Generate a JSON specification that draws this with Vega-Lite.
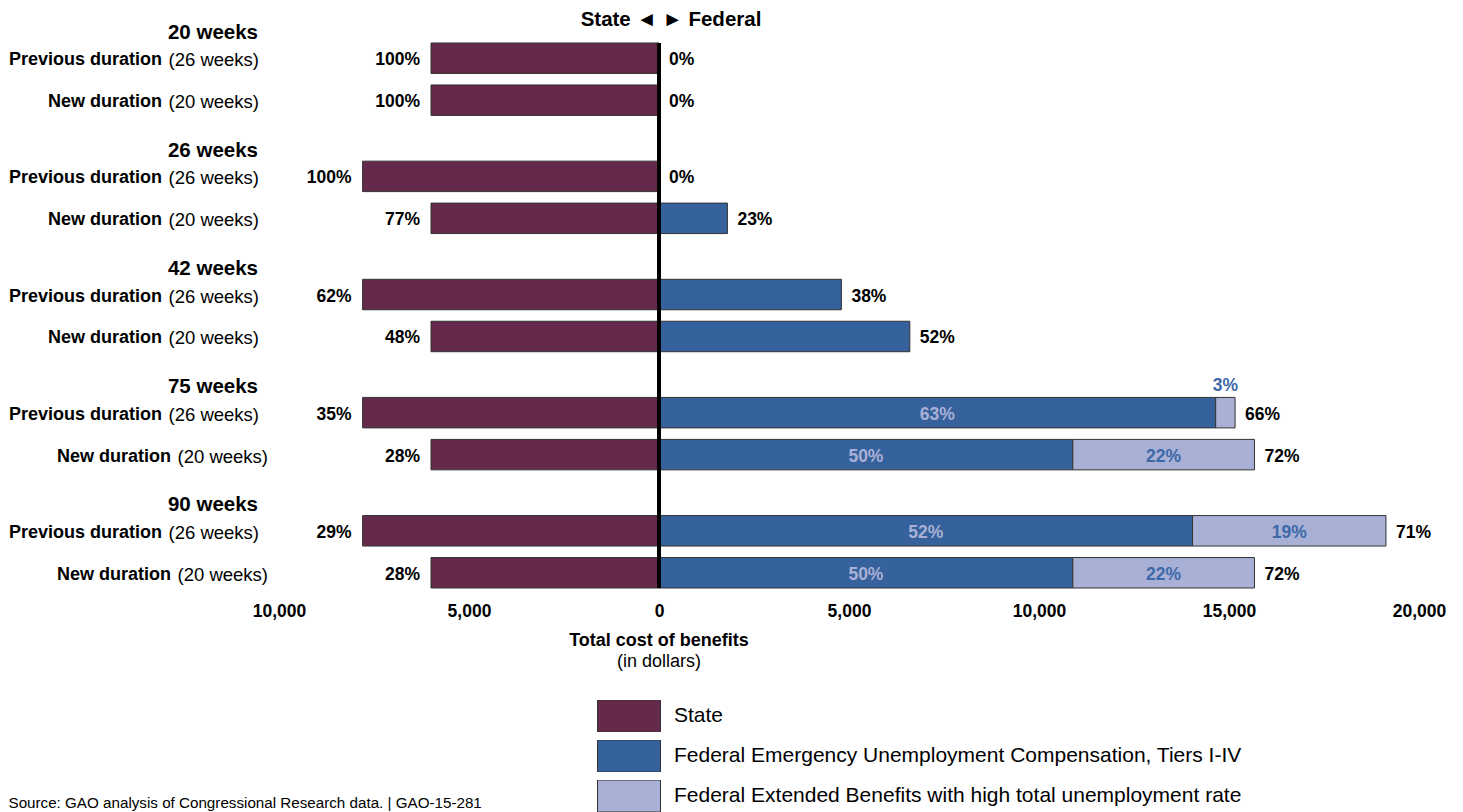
{
  "$schema": "https://vega.github.io/schema/vega-lite/v6.json",
  "width": 1140,
  "height": 545,
  "autosize": {"type": "none"},
  "padding": {"left": 279, "top": 43, "right": 44, "bottom": 224},
  "background": "white",
  "config": {
    "view": {"stroke": null},
    "font": "Liberation Sans",
    "axis": {"grid": false}
  },
  "title": {
    "text": "Total cost of benefits",
    "subtitle": "(in dollars)",
    "orient": "bottom",
    "anchor": "middle",
    "frame": "group",
    "dx": -190,
    "offset": -180,
    "fontSize": 18,
    "fontWeight": "bold",
    "color": "black",
    "subtitleFontSize": 18,
    "subtitleFontWeight": "normal",
    "subtitleColor": "black",
    "subtitlePadding": 3
  },
  "data": {
    "values": [
      {"group": "20 weeks", "dur": "Previous duration", "weeks": "(26 weeks)", "series": "State", "value": -6000, "pct": "100%", "fedPct": ""},
      {"group": "20 weeks", "dur": "Previous duration", "weeks": "(26 weeks)", "series": "Federal Emergency Unemployment Compensation, Tiers I-IV", "value": 0, "pct": "0%", "fedPct": "0%"},
      {"group": "20 weeks", "dur": "New duration", "weeks": "(20 weeks)", "series": "State", "value": -6000, "pct": "100%", "fedPct": ""},
      {"group": "20 weeks", "dur": "New duration", "weeks": "(20 weeks)", "series": "Federal Emergency Unemployment Compensation, Tiers I-IV", "value": 0, "pct": "0%", "fedPct": "0%"},
      {"group": "26 weeks", "dur": "Previous duration", "weeks": "(26 weeks)", "series": "State", "value": -7800, "pct": "100%", "fedPct": ""},
      {"group": "26 weeks", "dur": "Previous duration", "weeks": "(26 weeks)", "series": "Federal Emergency Unemployment Compensation, Tiers I-IV", "value": 0, "pct": "0%", "fedPct": "0%"},
      {"group": "26 weeks", "dur": "New duration", "weeks": "(20 weeks)", "series": "State", "value": -6000, "pct": "77%", "fedPct": ""},
      {"group": "26 weeks", "dur": "New duration", "weeks": "(20 weeks)", "series": "Federal Emergency Unemployment Compensation, Tiers I-IV", "value": 1800, "pct": "23%", "fedPct": "23%"},
      {"group": "42 weeks", "dur": "Previous duration", "weeks": "(26 weeks)", "series": "State", "value": -7800, "pct": "62%", "fedPct": ""},
      {"group": "42 weeks", "dur": "Previous duration", "weeks": "(26 weeks)", "series": "Federal Emergency Unemployment Compensation, Tiers I-IV", "value": 4800, "pct": "38%", "fedPct": "38%"},
      {"group": "42 weeks", "dur": "New duration", "weeks": "(20 weeks)", "series": "State", "value": -6000, "pct": "48%", "fedPct": ""},
      {"group": "42 weeks", "dur": "New duration", "weeks": "(20 weeks)", "series": "Federal Emergency Unemployment Compensation, Tiers I-IV", "value": 6600, "pct": "52%", "fedPct": "52%"},
      {"group": "75 weeks", "dur": "Previous duration", "weeks": "(26 weeks)", "series": "State", "value": -7800, "pct": "35%", "fedPct": ""},
      {"group": "75 weeks", "dur": "Previous duration", "weeks": "(26 weeks)", "series": "Federal Emergency Unemployment Compensation, Tiers I-IV", "value": 14650, "pct": "63%", "fedPct": "66%"},
      {"group": "75 weeks", "dur": "Previous duration", "weeks": "(26 weeks)", "series": "Federal Extended Benefits with high total unemployment rate", "value": 510, "pct": "3%", "fedPct": "66%"},
      {"group": "75 weeks", "dur": "New duration", "weeks": "(20 weeks)", "series": "State", "value": -6000, "pct": "28%", "fedPct": ""},
      {"group": "75 weeks", "dur": "New duration", "weeks": "(20 weeks)", "series": "Federal Emergency Unemployment Compensation, Tiers I-IV", "value": 10890, "pct": "50%", "fedPct": "72%"},
      {"group": "75 weeks", "dur": "New duration", "weeks": "(20 weeks)", "series": "Federal Extended Benefits with high total unemployment rate", "value": 4780, "pct": "22%", "fedPct": "72%"},
      {"group": "90 weeks", "dur": "Previous duration", "weeks": "(26 weeks)", "series": "State", "value": -7800, "pct": "29%", "fedPct": ""},
      {"group": "90 weeks", "dur": "Previous duration", "weeks": "(26 weeks)", "series": "Federal Emergency Unemployment Compensation, Tiers I-IV", "value": 14040, "pct": "52%", "fedPct": "71%"},
      {"group": "90 weeks", "dur": "Previous duration", "weeks": "(26 weeks)", "series": "Federal Extended Benefits with high total unemployment rate", "value": 5090, "pct": "19%", "fedPct": "71%"},
      {"group": "90 weeks", "dur": "New duration", "weeks": "(20 weeks)", "series": "State", "value": -6000, "pct": "28%", "fedPct": ""},
      {"group": "90 weeks", "dur": "New duration", "weeks": "(20 weeks)", "series": "Federal Emergency Unemployment Compensation, Tiers I-IV", "value": 10890, "pct": "50%", "fedPct": "72%"},
      {"group": "90 weeks", "dur": "New duration", "weeks": "(20 weeks)", "series": "Federal Extended Benefits with high total unemployment rate", "value": 4780, "pct": "22%", "fedPct": "72%"}
    ]
  },
  "layer": [
    {
      "mark": {"type": "bar", "stroke": "#333333", "strokeWidth": 1},
      "encoding": {
        "y": {
          "field": "group", "type": "nominal",
          "sort": ["20 weeks", "26 weeks", "42 weeks", "75 weeks", "90 weeks"],
          "scale": {"paddingInner": 0.387, "paddingOuter": 0},
          "axis": {
            "labels": false, "ticks": false, "domain": false, "grid": false,
            "title": "State  ◄ ►  Federal", "titleAngle": 0, "titleX": 391.5, "titleY": -24,
            "titleAlign": "center", "titleBaseline": "middle",
            "titleFontSize": 20.5, "titleFontWeight": "bold", "titleColor": "black"
          }
        },
        "yOffset": {
          "field": "dur", "type": "nominal",
          "sort": ["Previous duration", "New duration"],
          "scale": {"paddingInner": 0.274, "paddingOuter": 0}
        },
        "x": {
          "field": "value", "type": "quantitative", "stack": "zero",
          "scale": {"domain": [-10000, 20000], "nice": false, "zero": false},
          "axis": {
            "values": [-10000, -5000, 0, 5000, 10000, 15000, 20000],
            "labelExpr": "format(abs(datum.value), ',')",
            "grid": false, "ticks": false, "domain": false,
            "labelFontSize": 17.5, "labelFontWeight": "bold", "labelColor": "black",
            "labelPadding": 14, "labelFlush": false, "labelOverlap": false,
            "title": "Source: GAO analysis of Congressional Research data.  |  GAO-15-281",
            "titleX": -271, "titleY": 219, "titleAlign": "left", "titleBaseline": "alphabetic",
            "titleFontSize": 15.2, "titleFontWeight": "normal", "titleColor": "black"
          }
        },
        "color": {
          "field": "series", "type": "nominal",
          "scale": {
            "domain": ["State", "Federal Emergency Unemployment Compensation, Tiers I-IV", "Federal Extended Benefits with high total unemployment rate"],
            "range": ["#652a4b", "#35619c", "#a9b0d6"]
          },
          "legend": {
            "orient": "none", "legendX": 318, "legendY": 657, "title": null,
            "direction": "vertical",
            "symbolType": "M-1,-0.508H1V0.508H-1Z", "symbolSize": 3969,
            "symbolStrokeColor": "#333333", "symbolStrokeWidth": 1, "symbolOpacity": 1,
            "clipHeight": 32, "rowPadding": 8,
            "labelFontSize": 21, "labelOffset": 13, "labelColor": "black", "labelLimit": 900,
            "padding": 0
          }
        },
        "order": {"field": "series", "type": "ordinal", "sort": "ascending"}
      }
    },
    {
      "mark": {"type": "rule", "strokeWidth": 4, "color": "black"},
      "encoding": {"x": {"datum": 0}}
    },
    {
      "transform": [{"filter": "datum.series === 'State' && datum.dur === 'Previous duration'"}],
      "mark": {"type": "text", "align": "right", "baseline": "middle", "dx": -21, "dy": -46.5, "fontSize": 20.5, "fontWeight": "bold", "color": "black"},
      "encoding": {
        "x": {"datum": -10000},
        "y": {"field": "group", "type": "nominal", "sort": ["20 weeks", "26 weeks", "42 weeks", "75 weeks", "90 weeks"]},
        "text": {"field": "group", "type": "nominal"}
      }
    },
    {
      "transform": [{"filter": "datum.series === 'State' && !(datum.dur === 'New duration' && (datum.group === '75 weeks' || datum.group === '90 weeks'))"}],
      "mark": {"type": "text", "align": "right", "baseline": "middle", "dx": -117, "dy": 2, "fontSize": 18, "fontWeight": "bold", "color": "black"},
      "encoding": {
        "x": {"datum": -10000},
        "y": {"field": "group", "type": "nominal", "sort": ["20 weeks", "26 weeks", "42 weeks", "75 weeks", "90 weeks"]},
        "yOffset": {"field": "dur", "type": "nominal", "sort": ["Previous duration", "New duration"]},
        "text": {"field": "dur", "type": "nominal"}
      }
    },
    {
      "transform": [{"filter": "datum.series === 'State' && !(datum.dur === 'New duration' && (datum.group === '75 weeks' || datum.group === '90 weeks'))"}],
      "mark": {"type": "text", "align": "right", "baseline": "middle", "dx": -20, "dy": 2, "fontSize": 18.5, "fontWeight": "normal", "color": "black"},
      "encoding": {
        "x": {"datum": -10000},
        "y": {"field": "group", "type": "nominal", "sort": ["20 weeks", "26 weeks", "42 weeks", "75 weeks", "90 weeks"]},
        "yOffset": {"field": "dur", "type": "nominal", "sort": ["Previous duration", "New duration"]},
        "text": {"field": "weeks", "type": "nominal"}
      }
    },
    {
      "transform": [{"filter": "datum.series === 'State' && datum.dur === 'New duration' && (datum.group === '75 weeks' || datum.group === '90 weeks')"}],
      "mark": {"type": "text", "align": "right", "baseline": "middle", "dx": -108, "dy": 2, "fontSize": 18, "fontWeight": "bold", "color": "black"},
      "encoding": {
        "x": {"datum": -10000},
        "y": {"field": "group", "type": "nominal", "sort": ["20 weeks", "26 weeks", "42 weeks", "75 weeks", "90 weeks"]},
        "yOffset": {"field": "dur", "type": "nominal", "sort": ["Previous duration", "New duration"]},
        "text": {"field": "dur", "type": "nominal"}
      }
    },
    {
      "transform": [{"filter": "datum.series === 'State' && datum.dur === 'New duration' && (datum.group === '75 weeks' || datum.group === '90 weeks')"}],
      "mark": {"type": "text", "align": "right", "baseline": "middle", "dx": -11, "dy": 2, "fontSize": 18.5, "fontWeight": "normal", "color": "black"},
      "encoding": {
        "x": {"datum": -10000},
        "y": {"field": "group", "type": "nominal", "sort": ["20 weeks", "26 weeks", "42 weeks", "75 weeks", "90 weeks"]},
        "yOffset": {"field": "dur", "type": "nominal", "sort": ["Previous duration", "New duration"]},
        "text": {"field": "weeks", "type": "nominal"}
      }
    },
    {
      "transform": [{"filter": "datum.series === 'State'"}],
      "mark": {"type": "text", "align": "right", "baseline": "middle", "dx": -11, "dy": 2, "fontSize": 17.5, "fontWeight": "bold", "color": "black"},
      "encoding": {
        "x": {"field": "value", "type": "quantitative"},
        "y": {"field": "group", "type": "nominal", "sort": ["20 weeks", "26 weeks", "42 weeks", "75 weeks", "90 weeks"]},
        "yOffset": {"field": "dur", "type": "nominal", "sort": ["Previous duration", "New duration"]},
        "text": {"field": "pct", "type": "nominal"}
      }
    },
    {
      "transform": [{"filter": "datum.series !== 'State'"}],
      "mark": {"type": "text", "align": "left", "baseline": "middle", "dx": 10, "dy": 2, "fontSize": 17.5, "fontWeight": "bold", "color": "black"},
      "encoding": {
        "x": {"aggregate": "sum", "field": "value", "type": "quantitative"},
        "y": {"field": "group", "type": "nominal", "sort": ["20 weeks", "26 weeks", "42 weeks", "75 weeks", "90 weeks"]},
        "yOffset": {"field": "dur", "type": "nominal", "sort": ["Previous duration", "New duration"]},
        "text": {"field": "fedPct", "type": "nominal"}
      }
    },
    {
      "transform": [{"filter": "datum.series !== 'State' && (datum.group === '75 weeks' || datum.group === '90 weeks')"}],
      "mark": {"type": "text", "align": "center", "baseline": "middle", "dy": 2, "fontSize": 17.5, "fontWeight": "bold"},
      "encoding": {
        "x": {"field": "value", "type": "quantitative", "stack": "zero", "bandPosition": 0.5},
        "y": {"field": "group", "type": "nominal", "sort": ["20 weeks", "26 weeks", "42 weeks", "75 weeks", "90 weeks"]},
        "yOffset": {"field": "dur", "type": "nominal", "sort": ["Previous duration", "New duration"]},
        "detail": {"field": "series", "type": "nominal"},
        "order": {"field": "series", "type": "ordinal", "sort": "ascending"},
        "text": {
          "field": "pct", "type": "nominal",
          "condition": {"test": "datum.group === '75 weeks' && datum.dur === 'Previous duration' && datum.series === 'Federal Extended Benefits with high total unemployment rate'", "value": ""}
        },
        "color": {
          "condition": {"test": "datum.series === 'Federal Emergency Unemployment Compensation, Tiers I-IV'", "value": "#a9b0d6"},
          "value": "#3d69a8"
        }
      }
    },
    {
      "transform": [{"filter": "datum.series !== 'State' && datum.group === '75 weeks' && datum.dur === 'Previous duration'"}],
      "mark": {"type": "text", "align": "center", "baseline": "middle", "dy": -27, "fontSize": 17.5, "fontWeight": "bold", "color": "#3d69a8"},
      "encoding": {
        "x": {"field": "value", "type": "quantitative", "stack": "zero", "bandPosition": 0.5},
        "y": {"field": "group", "type": "nominal", "sort": ["20 weeks", "26 weeks", "42 weeks", "75 weeks", "90 weeks"]},
        "yOffset": {"field": "dur", "type": "nominal", "sort": ["Previous duration", "New duration"]},
        "detail": {"field": "series", "type": "nominal"},
        "order": {"field": "series", "type": "ordinal", "sort": "ascending"},
        "text": {
          "field": "pct", "type": "nominal",
          "condition": {"test": "datum.series === 'Federal Emergency Unemployment Compensation, Tiers I-IV'", "value": ""}
        }
      }
    }
  ]
}
